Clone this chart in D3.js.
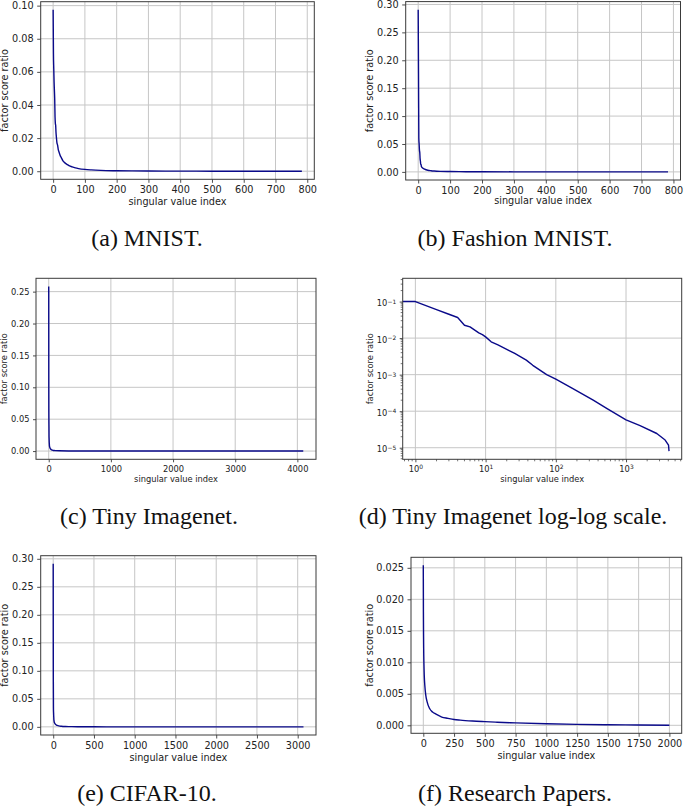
<!DOCTYPE html>
<html><head><meta charset="utf-8">
<script src="https://cdn.jsdelivr.net/npm/d3@7"></script>
<style>body{margin:0;background:#fff}svg{display:block}</style>
</head><body>
<svg id="chart" width="685" height="807"></svg>
<script>
// ---------------- data ----------------
const mnistIdx = [0,1,2,3,4,5,6,7,8,9,10,12,14,16,18,20,23,26,30,35,40,45,50,60,70,80,100,120,150,200,250,300,400,500,600,700,783];
const mnistVal = [0.0975,0.0710,0.0617,0.0539,0.0487,0.0431,0.0327,0.0288,0.0276,0.0235,0.0211,0.0171,0.0158,0.0132,0.0119,0.0107,0.0091,0.0081,0.0066,0.0054,0.0046,0.0040,0.0034,0.0026,0.0020,0.0016,0.0011,0.0008,0.0005,0.0003,0.0002,0.00013,0.00006,0.00003,0.00001,0.000002,0];

const fashionIdx = [0,1,2,3,4,5,6,7,8,9,10,12,15,20,25,30,40,50,70,100,150,200,300,400,500,600,700,783];
const fashionVal = [0.2906,0.1771,0.0602,0.0496,0.0385,0.0346,0.0234,0.0191,0.0135,0.0132,0.0098,0.0080,0.0066,0.0050,0.0038,0.0030,0.0021,0.0015,0.0009,0.0006,0.0003,0.0002,0.0001,0.00005,0.00003,0.00001,0.000005,0];

const tinyIdx = [0,1,2,3,4,5,6,8,9,10,12,15,22,26,38,47,74,100,170,341,530,1000,1585,2742,3606,4030,4095];
const tinyVal = [0.258,0.1,0.0605,0.045,0.0366,0.0225,0.0202,0.0139,0.0125,0.0108,0.0079,0.0065,0.0045,0.0038,0.0025,0.0018,0.001,0.00075,0.00043,0.0002,0.00012,0.000058,0.00004,0.0000245,0.0000162,0.0000117,0.0000081];

const cifarIdx = [0,1,2,3,4,5,6,7,8,9,10,12,15,20,25,30,40,50,70,100,150,200,300,500,800,1200,2000,3071];
const cifarVal = [0.291,0.113,0.067,0.034,0.027,0.024,0.019,0.017,0.013,0.012,0.011,0.0090,0.0075,0.0060,0.0050,0.0042,0.0032,0.0025,0.0017,0.0011,0.0006,0.0004,0.0002,0.00007,0.00003,0.00001,0.000003,0];

const papersIdx = [0,1,2,3,5,8,12,20,30,50,75,100,150,200,250,300,400,500,600,750,1000,1250,1500,1750,2000];
const papersVal = [0.0254,0.0180,0.0145,0.0122,0.0098,0.0078,0.0064,0.0048,0.0038,0.0027,0.0021,0.0018,0.0013,0.0011,0.00092,0.00082,0.00068,0.00058,0.00049,0.00038,0.00024,0.00015,0.00009,0.00004,0];

const xTicksMnist = [0,100,200,300,400,500,600,700,800];
const yTicksMnist = [0,0.02,0.04,0.06,0.08,0.10];
const yTicksFashion = [0,0.05,0.10,0.15,0.20,0.25,0.30];
const xTicksTiny = [0,1000,2000,3000,4000];
const yTicksTiny = [0,0.05,0.10,0.15,0.20,0.25];
const xTicksLog = [1,10,100,1000];
const yTicksLog = [1e-5,1e-4,1e-3,1e-2,1e-1];
const xTicksCifar = [0,500,1000,1500,2000,2500,3000];
const yTicksCifar = [0,0.05,0.10,0.15,0.20,0.25,0.30];
const xTicksPapers = [0,250,500,750,1000,1250,1500,1750,2000];
const yTicksPapers = [0,0.005,0.010,0.015,0.020,0.025];

const captions = ["(a) MNIST.","(b) Fashion MNIST.","(c) Tiny Imagenet.","(d) Tiny Imagenet log-log scale.","(e) CIFAR-10.","(f) Research Papers."];
const xLabel = "singular value index";
const yLabel = "factor score ratio";

// ---------------- drawing ----------------
const svg = d3.select("#chart");
const LINE = "#0a0a8a", GRID = "#c6c6c6", FRAME = "#3a3a3a", TXT = "#222";
const SANS = "'DejaVu Sans', sans-serif";

function padLin(vals){ const [a,b]=d3.extent(vals); const m=(b-a)*0.05; return [a-m,b+m]; }
function padLog(vals){ const [a,b]=d3.extent(vals).map(Math.log10); const m=(b-a)*0.05; return [Math.pow(10,a-m),Math.pow(10,b+m)]; }

function panel(cfg){
  const [l,t,r,b] = cfg.frame;
  const fs = cfg.fs;
  const x = cfg.x.range([l,r]), y = cfg.y.range([b,t]);
  const g = svg.append("g");
  const cid = "clip"+cfg.id;
  svg.append("defs").append("clipPath").attr("id",cid)
    .append("rect").attr("x",l).attr("y",t).attr("width",r-l).attr("height",b-t);
  // grid
  g.append("g").selectAll("line").data(cfg.xTicks).join("line")
    .attr("x1",d=>x(d)).attr("x2",d=>x(d)).attr("y1",t).attr("y2",b)
    .attr("stroke",GRID).attr("stroke-width",1);
  g.append("g").selectAll("line").data(cfg.yTicks).join("line")
    .attr("y1",d=>y(d)).attr("y2",d=>y(d)).attr("x1",l).attr("x2",r)
    .attr("stroke",GRID).attr("stroke-width",1);
  // minor ticks (log)
  if (cfg.minorX) {
    g.append("g").selectAll("line").data(cfg.minorX).join("line")
      .attr("x1",d=>x(d)).attr("x2",d=>x(d)).attr("y1",b).attr("y2",b+2)
      .attr("stroke",FRAME).attr("stroke-width",0.7);
  }
  if (cfg.minorY) {
    g.append("g").selectAll("line").data(cfg.minorY).join("line")
      .attr("y1",d=>y(d)).attr("y2",d=>y(d)).attr("x1",l).attr("x2",l-2)
      .attr("stroke",FRAME).attr("stroke-width",0.7);
  }
  // axes
  const ts = cfg.tick || 3.5, tp = cfg.pad || 3.5;
  const ax = g.append("g").attr("transform",`translate(0,${b})`)
    .call(d3.axisBottom(x).tickValues(cfg.xTicks).tickFormat(cfg.log ? ()=>"" : cfg.xFmt).tickSize(ts).tickPadding(tp));
  const ay = g.append("g").attr("transform",`translate(${l},0)`)
    .call(d3.axisLeft(y).tickValues(cfg.yTicks).tickFormat(cfg.log ? ()=>"" : cfg.yFmt).tickSize(ts).tickPadding(tp));
  [ax,ay].forEach(a=>{
    a.select(".domain").remove();
    a.selectAll("line").attr("stroke",FRAME).attr("stroke-width",0.9);
    a.selectAll("text").attr("fill",TXT).style("font-family",SANS).style("font-size",fs+"px");
  });
  if (cfg.log) {
    ax.selectAll(".tick text").each(function(d){
      const s = d3.select(this); s.text("10");
      s.append("tspan").attr("dy","-0.45em").style("font-size",(fs*0.72)+"px").text(String(Math.round(Math.log10(d))));
    });
    ay.selectAll(".tick text").each(function(d){
      const s = d3.select(this); s.text("10").attr("dy","0.5em");
      s.append("tspan").attr("dy","-0.45em").style("font-size",(fs*0.72)+"px").text("\u2212" + Math.round(-Math.log10(d)));
    });
  }
  // data line (index 0 on a log axis is pushed far to the left, as matplotlib clips it)
  const pts = cfg.idx.map((v,i)=>({i:v, v:cfg.val[i]}));
  const line = d3.line()
    .x(d => cfg.log ? x(d.i > 0 ? d.i : 1e-300) : x(d.i))
    .y(d => y(d.v))
    .curve(cfg.log ? d3.curveLinear : d3.curveMonotoneX);
  g.append("path").attr("d",line(pts)).attr("clip-path",`url(#${cid})`)
    .attr("fill","none").attr("stroke",LINE).attr("stroke-width",1.4).attr("stroke-linejoin","round");
  // frame
  g.append("rect").attr("x",l).attr("y",t).attr("width",r-l).attr("height",b-t)
    .attr("fill","none").attr("stroke",FRAME).attr("stroke-width",1);
  // labels
  g.append("text").attr("x",(l+r)/2).attr("y",cfg.xlY).attr("text-anchor","middle")
    .attr("fill",TXT).style("font-family",SANS).style("font-size",fs+"px").text(xLabel);
  g.append("text").attr("transform",`translate(${cfg.ylX},${(t+b)/2}) rotate(-90)`).attr("text-anchor","middle")
    .attr("fill",TXT).style("font-family",SANS).style("font-size",fs+"px").text(yLabel);
}

const f2 = d3.format(".2f"), f3 = d3.format(".3f"), fd = d3.format("d");
const minors = (lo, hi) => { const out=[]; for (let e=-7;e<=4;e++) for (let k=2;k<=9;k++){ const v=k*Math.pow(10,e); if(v>lo&&v<hi) out.push(v);} return out; };

panel({id:"a", frame:[40.7,1.7,314.3,179.3], fs:9.7,
  x:d3.scaleLinear().domain(padLin(mnistIdx)), y:d3.scaleLinear().domain(padLin(mnistVal)),
  idx:mnistIdx, val:mnistVal, xTicks:xTicksMnist, yTicks:yTicksMnist, xFmt:fd, yFmt:f2, xlY:204.5, ylX:8.3});
panel({id:"b", frame:[405.7,1.6,680.5,180], fs:9.7,
  x:d3.scaleLinear().domain(padLin(fashionIdx)), y:d3.scaleLinear().domain(padLin(fashionVal)),
  idx:fashionIdx, val:fashionVal, xTicks:xTicksMnist, yTicks:yTicksFashion, xFmt:fd, yFmt:f2, xlY:204, ylX:373.3});
panel({id:"c", frame:[36,278.3,316,459.3], fs:8.3, tick:3, pad:3.5,
  x:d3.scaleLinear().domain(padLin(tinyIdx)), y:d3.scaleLinear().domain(padLin(tinyVal)),
  idx:tinyIdx, val:tinyVal, xTicks:xTicksTiny, yTicks:yTicksTiny, xFmt:fd, yFmt:f2, xlY:482, ylX:7});
const dX = padLog(tinyIdx.filter(v=>v>0)), dY = padLog(tinyVal);
panel({id:"d", frame:[402.7,278.3,681.7,459.3], fs:8.3, tick:3, pad:3.5, log:true,
  x:d3.scaleLog().domain(dX), y:d3.scaleLog().domain(dY),
  minorX:minors(dX[0],dX[1]), minorY:minors(dY[0],dY[1]),
  idx:tinyIdx, val:tinyVal, xTicks:xTicksLog, yTicks:yTicksLog, xlY:482, ylX:372.5});
panel({id:"e", frame:[40.7,555.7,316,735], fs:9.7,
  x:d3.scaleLinear().domain(padLin(cifarIdx)), y:d3.scaleLinear().domain(padLin(cifarVal)),
  idx:cifarIdx, val:cifarVal, xTicks:xTicksCifar, yTicks:yTicksCifar, xFmt:fd, yFmt:f2, xlY:760.5, ylX:8.3});
panel({id:"f", frame:[411,557.3,681.7,733.3], fs:9.7,
  x:d3.scaleLinear().domain(padLin(papersIdx)), y:d3.scaleLinear().domain(padLin(papersVal)),
  idx:papersIdx, val:papersVal, xTicks:xTicksPapers, yTicks:yTicksPapers, xFmt:fd, yFmt:f3, xlY:758.5, ylX:373.3});

// captions
const capPos = [[147,245.5],[515,245.5],[149,523.5],[513,523.5],[147,801],[515,801]];
svg.append("g").selectAll("text").data(captions).join("text")
  .attr("x",(d,i)=>capPos[i][0]).attr("y",(d,i)=>capPos[i][1]).attr("text-anchor","middle")
  .attr("fill","#111").style("font-family","'Liberation Serif', 'Times New Roman', serif").style("font-size","24px")
  .text(d=>d);
</script>
</body></html>
